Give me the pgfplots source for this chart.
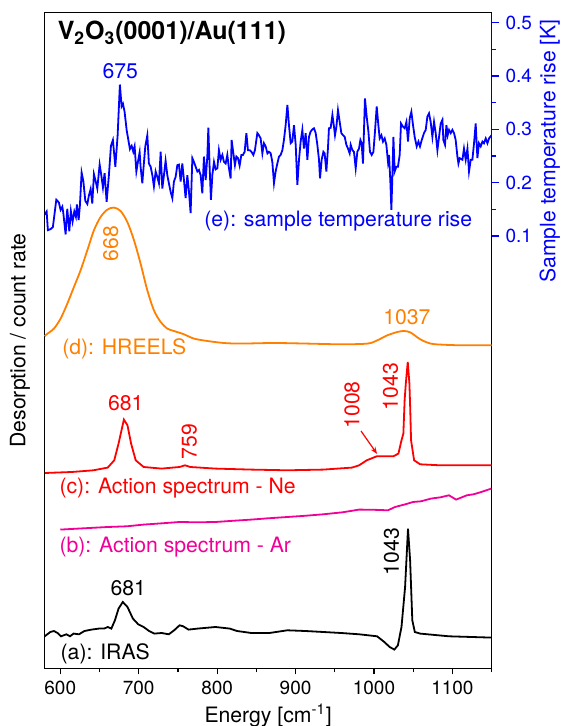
\documentclass[border=0pt]{standalone}
\usepackage{pgfplots}
\pgfplotsset{compat=1.18}
\usepackage{fontspec}
\setmainfont{TeX Gyre Heros}
\usetikzlibrary{arrows.meta}
\definecolor{hblue}{RGB}{0,0,255}
\definecolor{horange}{RGB}{255,128,0}
\definecolor{hred}{RGB}{255,0,0}
\definecolor{hmag}{RGB}{240,0,150}

\newcommand{\lbl}{\fontsize{10.6bp}{12bp}\selectfont}
\newcommand{\tck}{\fontsize{9.5bp}{11bp}\selectfont}

\begin{document}
\begin{tikzpicture}
% left axis: arbitrary units, curves stacked
\begin{axis}[
  scale only axis, width=223.5bp, height=327.8bp,
  xmin=580, xmax=1150, ymin=0, ymax=655.6,
  axis line style={line width=0.75bp},
  xtick={600,700,...,1100}, minor xtick={650,750,...,1150},
  ytick=\empty,
  xtick pos=bottom, tick align=outside,
  major tick length=3bp, minor tick length=2bp,
  every tick/.style={black, line width=0.6bp},
  ticklabel style={font=\tck},
  /pgf/number format/assume math mode=true,
  /pgf/number format/1000 sep={},
  xlabel={Energy [cm\textsuperscript{-1}]},
  xlabel style={font=\lbl, at={(rel axis cs:0.5,0)}, anchor=center, yshift=-23.4bp},
  ylabel={Desorption / count rate},
  ylabel style={font=\lbl, at={(axis description cs:-0.055,0.5)}, anchor=center},
  clip=false,
]
% (d) HREELS
\addplot[horange, line width=0.9bp, smooth] coordinates {
(580,332)(582.6,334)(591.9,339.7)(600.4,349.7)(609.0,364.7)(617.4,381.3)(625.9,398)
(634.5,418)(642.9,438)(651.4,451.3)(660.0,458.7)(668.4,460.7)(676.9,457.3)(685.5,446.3)
(694.0,428)(702.4,404.7)(711.0,378)(719.4,358)(728.0,346.3)(736.5,339.7)(744.9,337.3)
(757.7,334)(770.4,329.7)(787.5,327.3)(808.7,325.3)(830.0,324.7)(872.5,325.3)(915.1,324.7)
(957.6,324)(991.6,324.7)(1004.3,328)(1017.1,333)(1029.9,336.3)(1038.3,337.3)(1046.8,335.7)
(1059.6,328.7)(1072.3,324.7)(1085.1,323.7)(1110.6,323)(1150,323)};
% (c) action spectrum Ne
\addplot[hred, line width=0.9bp] coordinates {
(580.4,195.3)(614.7,196.3)(642.2,198)(660.5,200.7)(668.8,208)(674.3,224.7)(681.1,248.7)
(685.7,243)(690.3,224.7)(696.2,208)(706.3,201.3)(729.2,199.7)(752.1,201.3)(759.0,203)
(765.8,201.3)(797.9,199.7)(843.6,198.7)(889.6,198)(935.4,198.7)(972.0,200.7)(981.1,203)
(990.8,208)(1003.6,212)(1024.8,212)(1031.2,214.7)(1035.1,228)(1037.5,234.7)(1039.1,268)
(1040.6,284.7)(1043.1,306.3)(1045.2,284.7)(1046.3,258)(1047.3,228)(1051.2,208)(1058.8,204)
(1084.3,203)(1150,203)};
% (b) action spectrum Ar
\addplot[hmag, line width=0.9bp] coordinates {
(600.0,138.7)(630,140)(660.5,141.3)(685,142)(706.3,143.7)(730,145)(752.1,146.3)(775,146)
(797.9,146.3)(820,147.5)(843.6,148.7)(865,150)(889.6,151.3)(912,152.5)(935.4,154)(960,156)
(981.1,158.7)(1000,158.5)(1017.8,158)(1026.9,161.3)(1040,164)(1049.8,166.3)(1060,167)
(1072.7,169.7)(1085,171)(1095.6,173)(1104.7,168.7)(1118.5,173)(1127,174)(1136.8,176.3)(1149.6,179.7)};
% (a) IRAS
\addplot[black, line width=0.9bp] coordinates {
(580,32)(581.8,33)(587.3,36.3)(591.9,37.3)(596.5,35.3)(600.9,32)(607.8,34)(612.4,32)(617.0,34.7)
(623.9,34)(630.8,37.3)(640.0,38.7)(649.0,39.7)(655.9,39.7)(660.5,41.3)(665.1,39.7)(669.7,48)
(674.3,59.7)(679.7,66.3)(685.7,61.3)(692.6,49.7)(699.4,44)(706.3,41.3)(713.2,37.3)(720.0,34.7)
(729.2,35.3)(738.4,34)(745.2,38)(752.1,43)(756.7,42)(763.5,38.7)(775.0,39.7)(797.9,41.3)
(816.2,39.7)(825.4,37.3)(843.6,35.3)(866.6,35.3)(889.6,38)(912.4,37.3)(935.4,36.3)(958.2,35.3)
(981.1,34)(1004.0,32)(1013.2,26.3)(1020.0,21.3)(1026.0,18.7)(1030.5,23)(1035.1,41.3)
(1039.7,81.3)(1043.4,139.7)(1046.1,108)(1048.9,48)(1052.1,36.3)(1058.9,34.7)(1095.6,32)(1149.6,30.7)};

\node[anchor=base west, inner sep=0, font=\fontsize{12.5bp}{14bp}\selectfont\bfseries]
  at (axis cs:596.3,628.3) {V\textsubscript{2}O\textsubscript{3}(0001)/Au(111)};
\node[hblue, font=\lbl, inner sep=0] at (axis cs:676.6,597.3) {675};
\node[hblue, font=\lbl, inner sep=0, anchor=west] at (axis cs:783.2,447.6) {(e): sample temperature rise};
\node[horange, font=\lbl, inner sep=0, rotate=90] at (axis cs:664.3,424.7) {668};
\node[horange, font=\lbl, inner sep=0, anchor=west] at (axis cs:602,319.7) {(d): HREELS};
\node[horange, font=\lbl, inner sep=0] at (axis cs:1041.9,351.6) {1037};
\node[hred, font=\lbl, inner sep=0] at (axis cs:683.4,265) {681};
\node[hred, font=\lbl, inner sep=0, rotate=90] at (axis cs:764.6,226.6) {759};
\node[hred, font=\lbl, inner sep=0, rotate=90] at (axis cs:972,263.3) {1008};
\node[hred, font=\lbl, inner sep=0, rotate=90] at (axis cs:1021.2,281.8) {1043};
\draw[hred, line width=0.6bp, -{Stealth[length=3.5bp]}] (axis cs:983.5,237.3) -- (axis cs:1004,214.3);
\node[hred, font=\lbl, inner sep=0, anchor=west] at (axis cs:598.6,180) {(c): Action spectrum - Ne};
\node[hmag, font=\lbl, inner sep=0, anchor=west] at (axis cs:598.6,121) {(b): Action spectrum - Ar};
\node[black, font=\lbl, inner sep=0] at (axis cs:686.6,80.6) {681};
\node[black, font=\lbl, inner sep=0, rotate=90] at (axis cs:1022.4,116.6) {1043};
\node[black, font=\lbl, inner sep=0, anchor=west] at (axis cs:600,14.3) {(a): IRAS};
\end{axis}

% right axis: sample temperature rise
\begin{axis}[
  scale only axis, width=223.5bp, height=327.8bp,
  xmin=580, xmax=1150, ymin=-0.7106, ymax=0.5188,
  hide x axis,
  axis y line*=right,
  axis line style={draw=none},
  ytick={0.1,0.2,0.3,0.4,0.5}, yticklabels={0.1,0.2,0.3,0.4,0.5},
  minor ytick={0.15,0.25,0.35,0.45},
  tick align=outside,
  major tick length=3.5bp, minor tick length=2bp,
  every tick/.style={hblue, line width=0.6bp},
  yticklabel style={hblue, font=\tck},
  /pgf/number format/assume math mode=true,
  ylabel={Sample temperature rise [K]},
  ylabel style={hblue, font=\lbl, at={(axis description cs:1.13,0.789)}, anchor=center, rotate=0},
]
\addplot[hblue, line width=0.9bp] coordinates {
(580,0.140)(582.6,0.146)(584.2,0.111)(587.7,0.113)(590.6,0.117)(594.9,0.168)(598.2,0.163)
(600.4,0.149)(602.6,0.155)(603.8,0.144)(606.8,0.103)(608.9,0.151)(611.5,0.109)(613.5,0.147)
(615.7,0.127)(617.9,0.146)(619.9,0.136)(621.2,0.159)(623.4,0.130)(625.0,0.157)(627.2,0.219)
(629.4,0.203)(631.9,0.166)(634.5,0.160)(636.5,0.176)(638.7,0.188)(640.8,0.161)(642.9,0.216)
(645.4,0.201)(647.2,0.189)(650.2,0.234)(652.3,0.214)(654.4,0.191)(656.5,0.218)(659.1,0.164)
(662.0,0.214)(664.6,0.269)(667.1,0.280)(670.2,0.230)(673.1,0.288)(676.0,0.384)(678.2,0.343)
(679.9,0.348)(682.0,0.333)(684.6,0.299)(686.8,0.280)(688.8,0.263)(691.0,0.269)(693.1,0.258)
(694.8,0.268)(697.0,0.221)(699.0,0.239)(701.2,0.257)(702.4,0.230)(704.6,0.199)(706.7,0.238)
(708.4,0.268)(711.0,0.289)(713.0,0.236)(715.2,0.230)(717.4,0.214)(719.4,0.193)(721.6,0.221)
(723.7,0.211)(725.8,0.199)(728.0,0.258)(730.1,0.189)(732.2,0.214)(734.3,0.241)(736.5,0.214)
(738.5,0.199)(740.7,0.183)(742.9,0.171)(744.9,0.202)(747.1,0.211)(749.3,0.233)(751.3,0.234)
(753.5,0.202)(755.6,0.236)(757.7,0.205)(759.8,0.171)(762.0,0.214)(764.1,0.183)(766.2,0.143)
(768.4,0.246)(770.4,0.239)(772.6,0.230)(774.8,0.221)(776.8,0.224)(779.0,0.214)(781.1,0.180)
(783.2,0.249)(785.4,0.205)(787.5,0.249)(788.8,0.303)(790.5,0.227)(792.1,0.168)(793.9,0.214)
(796.0,0.239)(798.1,0.225)(800.3,0.227)(802.3,0.261)(804.5,0.243)(806.7,0.252)(808.7,0.239)
(810.9,0.236)(813.0,0.252)(815.1,0.227)(817.2,0.208)(818.5,0.280)(820.7,0.255)(822.7,0.233)
(824.5,0.249)(826.6,0.246)(828.7,0.232)(830.9,0.252)(832.9,0.252)(835.1,0.258)(837.3,0.293)
(839.3,0.261)(841.5,0.261)(843.7,0.258)(846.2,0.252)(848.2,0.261)(851.3,0.293)(853.3,0.289)
(855.5,0.283)(857.7,0.255)(859.7,0.274)(861.9,0.268)(864.1,0.255)(866.1,0.258)(868.3,0.255)
(870.4,0.239)(872.5,0.199)(874.6,0.221)(876.8,0.236)(878.9,0.249)(881.0,0.252)(883.2,0.261)
(885.2,0.280)(887.4,0.308)(889.6,0.346)(891.6,0.308)(893.8,0.274)(895.9,0.277)(898.0,0.308)
(900.2,0.271)(902.3,0.196)(904.4,0.243)(906.5,0.277)(908.7,0.299)(910.7,0.264)(912.9,0.293)
(915.1,0.243)(917.1,0.286)(919.3,0.296)(921.5,0.300)(923.5,0.302)(925.7,0.293)(927.8,0.271)
(929.9,0.243)(931.2,0.208)(933.3,0.243)(935.5,0.258)(937.1,0.255)(939.3,0.221)(941.3,0.264)
(942.6,0.302)(944.8,0.303)(947.0,0.327)(949.0,0.305)(950.3,0.289)(952.1,0.305)(954.1,0.336)
(956.3,0.314)(958.4,0.293)(960.5,0.289)(962.7,0.286)(964.8,0.271)(966.9,0.264)(969.0,0.255)
(970.3,0.271)(972.5,0.261)(974.5,0.258)(976.7,0.227)(978.8,0.258)(980.9,0.264)(982.7,0.280)
(984.3,0.274)(986.0,0.236)(988.5,0.358)(990.7,0.324)(992.9,0.296)(994.9,0.258)(997.1,0.252)
(999.3,0.258)(1001.3,0.296)(1003.5,0.343)(1005.6,0.308)(1007.3,0.283)(1009.5,0.289)(1011.5,0.277)
(1013.7,0.283)(1015.8,0.271)(1017.9,0.239)(1019.2,0.252)(1020.9,0.202)(1022.2,0.149)(1023.5,0.214)
(1024.8,0.286)(1026.4,0.221)(1028.6,0.230)(1030.6,0.230)(1032.8,0.252)(1034.5,0.311)(1037.0,0.305)
(1039.2,0.302)(1041.4,0.314)(1043.4,0.277)(1045.6,0.321)(1047.7,0.333)(1049.8,0.308)(1051.9,0.286)
(1054.5,0.268)(1056.7,0.277)(1058.7,0.268)(1060.9,0.280)(1063.8,0.293)(1066.0,0.299)(1068.1,0.324)
(1070.2,0.330)(1072.3,0.314)(1074.5,0.286)(1076.6,0.314)(1078.7,0.293)(1080.9,0.261)(1083.0,0.286)
(1085.1,0.311)(1087.3,0.318)(1088.5,0.280)(1090.6,0.271)(1092.4,0.308)(1094.0,0.289)(1095.7,0.299)
(1097.9,0.293)(1100.0,0.299)(1102.1,0.293)(1104.2,0.280)(1106.4,0.249)(1107.7,0.236)(1109.3,0.246)
(1112.8,0.243)(1114.8,0.264)(1117.0,0.243)(1119.2,0.264)(1121.2,0.221)(1123.4,0.243)(1125.5,0.243)
(1127.6,0.274)(1129.7,0.311)(1131.9,0.246)(1133.9,0.274)(1136.1,0.268)(1138.3,0.277)(1140.3,0.274)
(1142.5,0.283)(1144.7,0.274)(1146.7,0.283)(1150.0,0.289)};
\draw[hblue, line width=0.75bp] (axis cs:1150,0.1) -- (rel axis cs:1,1);
\end{axis}
\pgfresetboundingbox
\useasboundingbox (-22.3bp,-28.85bp) rectangle (259.2bp,334.15bp);
\end{tikzpicture}
\end{document}
